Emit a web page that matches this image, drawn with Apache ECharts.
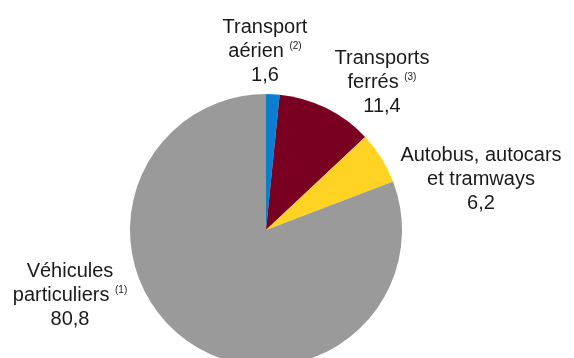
<!DOCTYPE html>
<html>
<head>
<meta charset="utf-8">
<script src="https://cdn.jsdelivr.net/npm/echarts@6/dist/echarts.min.js"></script>
<style>
  html, body { margin: 0; padding: 0; background: #fff; }
  #chart { width: 574px; height: 358px; }
</style>
</head>
<body>
<div id="chart"></div>
<script>
// Passenger transport shares (%), clockwise from 12 o'clock
const categories = ['Transport aérien', 'Transports ferrés', 'Autobus, autocars et tramways', 'Véhicules particuliers'];
const labelLines = [['Transport', 'aérien'], ['Transports', 'ferrés'], ['Autobus, autocars', 'et tramways'], ['Véhicules', 'particuliers']];
const notes = ['(2)', '(3)', '', '(1)'];
const values = [1.6, 11.4, 6.2, 80.8];
const colors = ['#0A7FD0', '#7A0022', '#FFD324', '#9A9A9A'];

// where each label block is centred (px)
const labelCentres = [[265, 51], [382, 82], [481, 179], [70, 295]];

const fmt = v => v.toFixed(1).replace('.', ',');

const chart = echarts.init(document.getElementById('chart'), null, { renderer: 'canvas' });

chart.setOption({
  animation: false,
  backgroundColor: '#ffffff',
  series: [{
    type: 'pie',
    center: [266, 230],
    radius: 136,
    startAngle: 90,
    clockwise: true,
    avoidLabelOverlap: false,
    itemStyle: { borderWidth: 0 },
    data: categories.map((name, i) => ({
      name: name,
      value: values[i],
      itemStyle: { color: colors[i] }
    })),
    label: {
      show: true,
      position: 'outside',
      fontFamily: 'Liberation Sans, Arial, sans-serif',
      fontSize: 20,
      color: '#1a1a1a',
      align: 'center',
      lineHeight: 24,
      formatter: p => {
        const i = p.dataIndex;
        const l = labelLines[i];
        const second = notes[i] ? l[1] + ' {sup|' + notes[i] + '}' : l[1];
        return l[0] + '\n' + second + '\n' + fmt(values[i]);
      },
      rich: {
        sup: { fontSize: 10, fontFamily: 'Liberation Sans, Arial, sans-serif', color: '#1a1a1a', padding: [0, 0, 10, 0] }
      }
    },
    labelLine: { show: false },
    labelLayout: p => ({
      x: labelCentres[p.dataIndex][0],
      y: labelCentres[p.dataIndex][1],
      align: 'center',
      verticalAlign: 'middle'
    }),
    emphasis: { disabled: true }
  }]
});
</script>
</body>
</html>
